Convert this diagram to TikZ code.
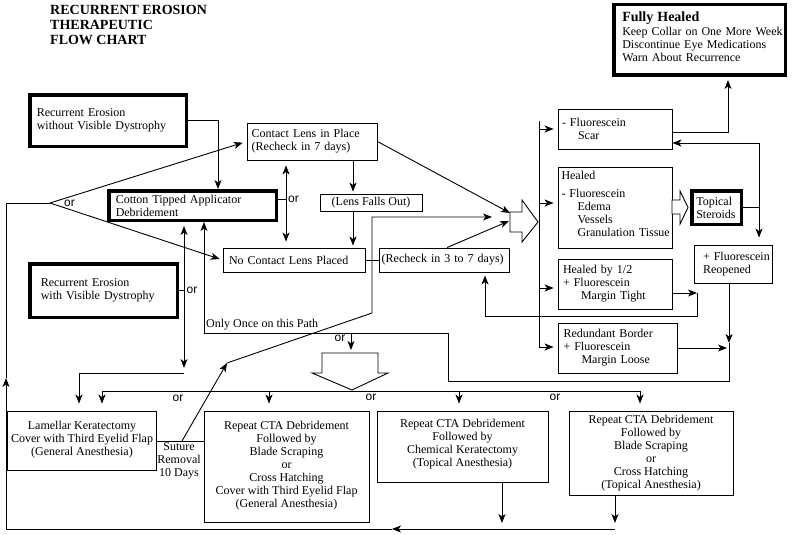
\documentclass[tikz,border=0pt]{standalone}
\usepackage{fontspec}
\setmainfont{Liberation Serif}
\newfontfamily\orsans{Liberation Sans}
\usetikzlibrary{arrows.meta,calc}
\hyphenpenalty=10000 \exhyphenpenalty=10000
\begin{document}
\begin{tikzpicture}[x=1pt,y=-1pt,
  tf/.style={font=\fontsize{12}{13}\selectfont},
  box/.style={draw, rectangle, line width=0.9pt, inner ysep=1pt, tf},
  thickbox/.style={box, line width=3.5pt},
  lbox/.style={align=left},
  cbox/.style={align=center},
  ln/.style={line width=0.9pt},
  arr/.style={ln, -{Stealth[length=9pt,width=7pt,inset=2.5pt]}},
  dbl/.style={ln, {Stealth[length=9pt,width=7pt,inset=2.5pt]}-{Stealth[length=9pt,width=7pt,inset=2.5pt]}},
  orlab/.style={font=\orsans\fontsize{12}{13}\selectfont, inner sep=0pt},
  blockarrow/.style={ln, fill=white, line join=miter}
]
\useasboundingbox (0,0) rectangle (795,535);
\fill[white] (0,0) rectangle (795,535);

% title
\node[anchor=north west, inner sep=0pt, align=left, font=\fontsize{14}{15}\selectfont\bfseries] (title) at (50,5) {RECURRENT EROSION\\THERAPEUTIC\\FLOW CHART};

% boxes
\node[thickbox, lbox, minimum width=156.5pt, minimum height=51.5pt, inner xsep=7pt, text width=142.5pt] (A) at (108,120.5) {Recurrent Erosion\\without Visible Dystrophy};
\node[box, lbox, minimum width=130pt, minimum height=37pt, inner xsep=4.7pt, text width=120.6pt] (B) at (312,141.5) {Contact Lens in Place\\(Recheck in 7 days)};
\node[thickbox, lbox, minimum width=167.5pt, minimum height=29.5pt, inner xsep=7pt, text width=153.5pt] (C) at (192.5,205.5) {Cotton Tipped Applicator\\Debridement};
\node[box, lbox, minimum width=142pt, minimum height=24pt, inner xsep=6pt, text width=130pt] (D) at (294,260) {No Contact Lens Placed};
\node[thickbox, lbox, minimum width=147.5pt, minimum height=53.5pt, inner xsep=11pt, text width=125.5pt] (E) at (103.5,290.5) {Recurrent Erosion\\with Visible Dystrophy};
\node[box, cbox, minimum width=102pt, minimum height=17pt] (F) at (371,202.5) {(Lens Falls Out)};
\node[box, lbox, minimum width=130pt, minimum height=24pt, inner xsep=2.7pt, text width=124.6pt] (G) at (444,260) {(Recheck~in~3~to~7~days)};
\node[box, lbox, minimum width=114pt, minimum height=40pt, inner xsep=4pt, text width=106pt] (H) at (615,129) {- Fluorescein\\\hspace*{16pt}Scar};
\node[box, lbox, minimum width=114pt, minimum height=81pt, inner xsep=3.5pt, text width=107pt] (I) at (615,207.5) {Healed\\[5pt]- Fluorescein\\\hspace*{16pt}Edema\\\hspace*{16pt}Vessels\\\hspace*{16pt}Granulation~Tissue\\[-5pt]\mbox{}};
\node[box, lbox, minimum width=114pt, minimum height=50pt, inner xsep=5pt, text width=104pt] (J) at (615,284) {Healed by 1/2\\+ Fluorescein\\\hspace*{18pt}Margin Tight};
\node[box, lbox, minimum width=119pt, minimum height=50pt, inner xsep=5.5pt, text width=108pt] (K) at (617.5,348) {Redundant Border\\+ Fluorescein\\\hspace*{18pt}Margin Loose};
\node[thickbox, lbox, minimum width=49.5pt, minimum height=33.5pt, inner xsep=4.5pt, text width=40.5pt] (L) at (716.5,207.5) {Topical\\Steroids};
\node[thickbox, lbox, minimum width=171.5pt, minimum height=70.5pt, inner xsep=8.5pt, text width=154.5pt] (M) at (699.5,40) {{\fontsize{14}{15}\selectfont\bfseries Fully~Healed}\\[1pt]Keep~Collar~on~One~More~Week\\Discontinue~Eye~Medications\\Warn~About~Recurrence\\[-6pt]\mbox{}};
\node[box, lbox, minimum width=78pt, minimum height=38pt, inner xsep=9pt, text width=60pt] (N) at (733,264) {+~Fluorescein\\Reopened};
\node[box, cbox, minimum width=148pt, minimum height=59pt] (O) at (82,440.5) {Lamellar Keratectomy\\Cover with Third Eyelid Flap\\(General Anesthesia)\\[-9pt]\mbox{}};
\node[box, cbox, minimum width=165pt, minimum height=111pt] (P) at (286.5,466.5) {Repeat CTA Debridement\\Followed by\\Blade Scraping\\or\\Cross Hatching\\Cover with Third Eyelid Flap\\(General Anesthesia)\\[-9pt]\mbox{}};
\node[box, cbox, minimum width=171pt, minimum height=71pt] (Q) at (462.5,446.5) {Repeat CTA Debridement\\Followed by\\Chemical Keratectomy\\(Topical Anesthesia)\\[-6pt]\mbox{}};
\node[box, cbox, minimum width=164pt, minimum height=84pt] (R) at (651,453) {Repeat CTA Debridement\\Followed by\\Blade Scraping\\or\\Cross Hatching\\(Topical Anesthesia)};

% free texts
\node[tf, align=center, inner sep=0pt] (sut) at (179,461) {Suture\\Removal\\10 Days};
\node[tf, anchor=west, inner sep=0pt] (once) at (206,325) {Only Once on this Path};
\node[orlab] (or1) at (69.5,203) {or};
\node[orlab] (or2) at (293.5,199.5) {or};
\node[orlab] (or3) at (192,290.5) {or};
\node[orlab] (or4) at (340,338.5) {or};
\node[orlab] (or5) at (178,398.5) {or};
\node[orlab] (or6) at (371,397) {or};
\node[orlab] (or7) at (555,397) {or};

% coordinates
\coordinate (V) at (50,203);
\coordinate (xa) at (218,0);
\coordinate (x286) at (286,0);
\coordinate (x353) at (353,0);
\coordinate (x184) at (184,0);
\coordinate (d2) at (184,368);
\coordinate (e1) at (184,373);
\coordinate (e2) at (79,373);
\coordinate (ba1a) at (510,213);
\coordinate (ba1b) at (509,221);
\coordinate (x447) at (447,0);
\coordinate (s1) at (182,441);
\coordinate (s2) at (227,363);
\coordinate (s3) at (372,313);
\coordinate (s4) at (372,217);
\coordinate (s5) at (492,217);
\coordinate (t1) at (539,121);
\coordinate (t2) at (539,347);
\coordinate (yI) at (0,203);
\coordinate (yJ) at (0,288);
\coordinate (st) at (759,143);
\coordinate (x728) at (728,0);
\coordinate (yH) at (0,132);
\coordinate (r1) at (729,343);
\coordinate (r2) at (729,381);
\coordinate (r3) at (448,381);
\coordinate (r4) at (448,333);
\coordinate (r5) at (204,333);
\coordinate (o4) at (351,333);
\coordinate (ba3top) at (351,353);
\coordinate (j1) at (697,293);
\coordinate (j2) at (697,316);
\coordinate (j3) at (485,316);
\coordinate (h1) at (102,391);
\coordinate (h2) at (640,391);
\coordinate (x269) at (269,0);
\coordinate (x459) at (459,0);
\coordinate (q1) at (502,0);
\coordinate (b1) at (615,529);
\coordinate (b2) at (392,529);
\coordinate (b3) at (6,529);
\coordinate (b4) at (6,378);
\coordinate (b5) at (6,203);

% connectors, left part
\draw[arr] (A.east) -| (C.north -| xa);
\draw[arr, shorten >=4pt] (V) -- (B.west);
\draw[arr, shorten >=3pt] (V) -- (D.west);
\draw[dbl, shorten <=5pt, shorten >=6pt] (B.south -| x286) -- (D.north -| x286);
\draw[ln] (C.east |- or2) -- (x286 |- or2);
\draw[arr, shorten >=2pt] (B.south -| x353) -- (F.north -| x353);
\draw[arr, shorten >=2pt] (F.south -| x353) -- (D.north -| x353);
\draw[ln] (D.east) -- (G.west);
\draw[arr] (B.east) -- (ba1a);
\draw[arr] (G.north -| x447) -- (ba1b);

% suture path
\draw[ln] (O.east |- s1) -- (P.west |- s1);
\draw[arr] (s1) -- (s2);
\draw[arr] (s2) -- (s3) -- (s4) -- (s5);

% CTA double arrow and lamellar
\draw[dbl, shorten <=4pt] (C.south -| x184) -- (d2);
\draw[ln] (E.east |- or3) -- (x184 |- or3);
\draw[arr, shorten >=7pt] (e1) -- (e2) -- (O.north -| e2);

% big block arrow right
\draw[blockarrow] (510,212) -- (522,212) -- (522,200) -- (538,222) -- (522,242) -- (522,232) -- (510,232) -- cycle;

% trunk
\draw[ln] (t1) -- (t2);
\draw[arr, shorten >=4pt] (t1 |- H.west) -- (H.west);
\draw[arr, shorten >=4pt] (t1 |- yI) -- (I.west |- yI);
\draw[arr, shorten >=4pt] (t1 |- yJ) -- (J.west |- yJ);
\draw[arr, shorten >=4pt] (t2) -- (K.west |- t2);

% steroids
\draw[blockarrow] (672,200) -- (680,200) -- (680,191) -- (688,207.5) -- (680,224) -- (680,214) -- (672,214) -- cycle;
\draw[ln] (L.east) -- (L.east -| st);
\draw[ln] (st) -- (st |- L.east);
\draw[arr, shorten >=7pt] (st) -- (N.north -| st);
\draw[arr] (st) -- (H.east |- st);
\draw[arr, shorten >=3pt] (H.east |- yH) -| (M.south -| x728);

% reopened / redundant
\draw[arr] (N.south -| r1) -- (r1);
\draw[arr] (r1) -- (r2) -- (r3) -- (r4) -- (r5) -- (C.south -| r5);
\draw[arr, shorten >=2pt] (K.east) -- (K.east -| r1);
\draw[arr, shorten >=3pt] (o4) -- (ba3top);

% healed by 1/2 loop
\draw[arr] (J.east |- j1) -- (j1);
\draw[arr, shorten >=3pt] (j1) -- (j2) -- (j3) -- (G.south -| j3);

% big block arrow down
\draw[blockarrow] (322,353) -- (378,353) -- (378,373) -- (388,373) -- (352,390) -- (312,373) -- (322,373) -- cycle;

% distribution line
\draw[ln] (h1) -- (h2);
\draw[arr, shorten >=7pt] (h1) -- (O.north -| h1);
\draw[arr, shorten >=7pt] (x269 |- h1) -- (P.north -| x269);
\draw[arr, shorten >=7pt] (x459 |- h1) -- (Q.north -| x459);
\draw[arr, shorten >=7pt] (h2) -- (R.north -| h2);

% bottom return
\draw[arr, shorten >=6pt] (Q.south -| q1) -- (q1 |- b1);
\draw[arr, shorten >=6pt] (R.south -| b1) -- (b1);
\draw[arr] (b1) -- (b2);
\draw[arr] (b2) -- (b3) -- (b4);
\draw[ln] (b4) -- (b5) -- (V);
\end{tikzpicture}
\end{document}
